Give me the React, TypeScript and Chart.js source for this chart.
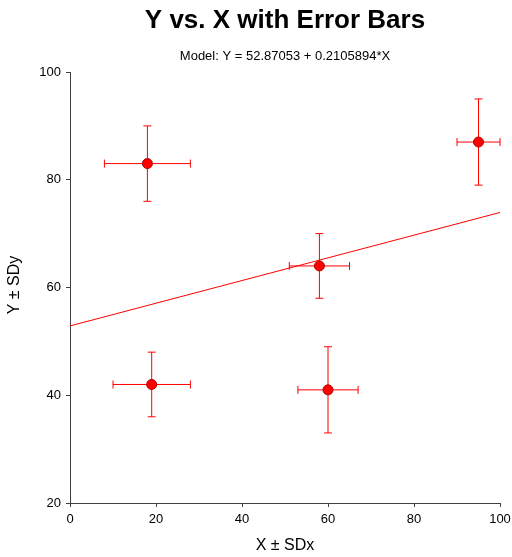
import React, { useEffect, useRef } from "react";
import { Chart, registerables } from "chart.js";

Chart.register(...registerables);

const xValues = [18, 19, 58, 60, 95];
const yValues = [83, 42, 64, 41, 87];
const sdX = [10, 9, 7, 7, 5];
const sdY = [7, 6, 6, 8, 8];
const intercept = 52.87053;
const slope = 0.2105894;
const lineXs = [0, 100];
const title = "Y vs. X with Error Bars";
const subtitle = "Model: Y = 52.87053 + 0.2105894*X";
const xTitle = "X ± SDx";
const yTitle = "Y ± SDy";

const FONT = "Arial, 'Liberation Sans', sans-serif";

const errorBarPlugin = {
  id: "errorBars",
  beforeDatasetsDraw(chart: any) {
    const ctx = chart.ctx;
    const xs = chart.scales.x;
    const ys = chart.scales.y;
    ctx.save();
    ctx.strokeStyle = "#ff0000";
    ctx.lineWidth = 1;
    const cap = 4;
    for (let i = 0; i < xValues.length; i++) {
      const cx = xs.getPixelForValue(xValues[i]);
      const cy = ys.getPixelForValue(yValues[i]);
      const x1 = xs.getPixelForValue(xValues[i] - sdX[i]);
      const x2 = xs.getPixelForValue(xValues[i] + sdX[i]);
      const y1 = ys.getPixelForValue(yValues[i] - sdY[i]);
      const y2 = ys.getPixelForValue(yValues[i] + sdY[i]);
      ctx.beginPath();
      ctx.moveTo(x1, cy);
      ctx.lineTo(x2, cy);
      ctx.moveTo(x1, cy - cap);
      ctx.lineTo(x1, cy + cap);
      ctx.moveTo(x2, cy - cap);
      ctx.lineTo(x2, cy + cap);
      ctx.moveTo(cx, y1);
      ctx.lineTo(cx, y2);
      ctx.moveTo(cx - cap, y1);
      ctx.lineTo(cx + cap, y1);
      ctx.moveTo(cx - cap, y2);
      ctx.lineTo(cx + cap, y2);
      ctx.stroke();
    }
    ctx.restore();
  },
  afterDraw(chart: any) {
    const ctx = chart.ctx;
    const a = chart.chartArea;
    const cx = (a.left + a.right) / 2;
    ctx.save();
    ctx.fillStyle = "#000";
    ctx.textAlign = "center";
    ctx.textBaseline = "middle";
    ctx.font = `bold 26px ${FONT}`;
    ctx.fillText(title, cx, 21);
    ctx.font = `13px ${FONT}`;
    ctx.fillText(subtitle, cx, 56);
    ctx.font = `16px ${FONT}`;
    ctx.fillText(xTitle, cx, 546);
    ctx.translate(15, 285);
    ctx.rotate(-Math.PI / 2);
    ctx.fillText(yTitle, 0, 0);
    ctx.restore();
  },
};

export default function App() {
  const ref = useRef<HTMLCanvasElement>(null);
  useEffect(() => {
    if (!ref.current) return;
    const points = xValues.map((x, i) => ({ x, y: yValues[i] }));
    const line = lineXs.map((x) => ({ x, y: intercept + slope * x }));
    const chart = new Chart(ref.current, {
      type: "scatter",
      data: {
        datasets: [
          {
            type: "line",
            data: line,
            borderColor: "#ff0000",
            borderWidth: 1,
            pointRadius: 0,
            fill: false,
          } as any,
          {
            data: points,
            backgroundColor: "#ff0000",
            borderColor: "#b00000",
            borderWidth: 1,
            pointRadius: 5,
          },
        ],
      },
      options: {
        animation: false,
        responsive: false,
        layout: { padding: { top: 72, right: 12, left: 0, bottom: 0 } },
        plugins: { legend: { display: false }, tooltip: { enabled: false } },
        scales: {
          x: {
            type: "linear",
            min: 0,
            max: 100,
            ticks: { stepSize: 20, color: "#000", font: { family: FONT, size: 13 }, padding: 5, maxRotation: 0 },
            grid: { display: true, drawOnChartArea: false, drawTicks: true, tickLength: 4, color: "#404040" },
            border: { display: true, color: "#404040" },
            afterFit: (s: any) => { s.height = 54; s.paddingLeft = 0; s.paddingRight = 0; },
          },
          y: {
            type: "linear",
            min: 20,
            max: 100,
            ticks: { stepSize: 20, color: "#000", font: { family: FONT, size: 13 }, padding: 5 },
            grid: { display: true, drawOnChartArea: false, drawTicks: true, tickLength: 4, color: "#404040" },
            border: { display: true, color: "#404040" },
            afterFit: (s: any) => { s.width = 70; s.paddingTop = 0; s.paddingBottom = 0; },
          },
        },
      },
      plugins: [errorBarPlugin],
    });
    return () => chart.destroy();
  }, []);
  return (
    <div style={{ position: "absolute", left: 0, top: 0, width: 512, height: 557, background: "#fff" }}>
      <canvas ref={ref} width={512} height={557} />
    </div>
  );
}
